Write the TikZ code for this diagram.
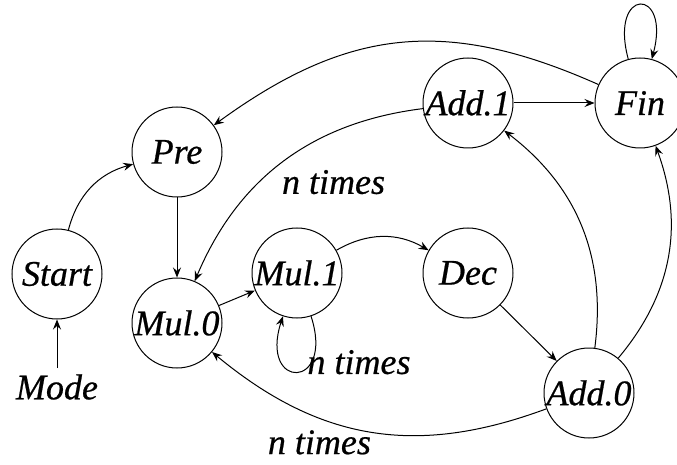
\documentclass[tikz,border=0pt]{standalone}
\usepackage{fontspec}
\setmainfont{Liberation Serif}
\newfontfamily\statefont{Liberation Serif Italic}[FakeBold=0.6]
\usetikzlibrary{arrows.meta}
\begin{document}
\begin{tikzpicture}[x=1pt,y=1pt,
  txt/.style={font=\fontsize{36}{40}\statefont},
  state/.style={txt,circle,draw,line width=1pt,minimum size=90pt,inner sep=0pt},
  lbl/.style={txt,inner sep=0pt},
  conn/.style={line width=1pt,-{Stealth[length=10pt,width=8pt,inset=3.5pt]}}]
\useasboundingbox (0,0) rectangle (677,464);

% states
\node[state] (start) at (57,190)  {Start};
\node[state] (pre)   at (177,312) {Pre};
\node[state] (mul0)  at (177,141) {Mul.0};
\node[state] (mul1)  at (297,191) {Mul.1};
\node[state] (dec)   at (468,191) {Dec};
\node[state] (add0)  at (589,71)  {Add.0};
\node[state] (add1)  at (468,361) {Add.1};
\node[state] (fin)   at (640,361) {Fin};
\node[txt,inner sep=6pt] (mode) at (57,77) {Mode};

% transitions
\draw[conn] (mode) -- (start);
\draw[conn] (start) to[bend left=30] (pre);
\draw[conn] (pre) -- (mul0);
\draw[conn] (add1) to[bend right=30] node[lbl,pos=0.5,anchor=north west,xshift=-2pt,yshift=-8pt] {n times} (mul0);
\draw[conn] (mul0) -- (mul1);
\draw[conn] (mul1) to[bend left=30] (dec);
\draw[conn] (mul1.-72) .. controls +(-72:78) and +(-108:78) ..
  node[lbl,pos=0.5,anchor=base west,xshift=10pt,yshift=-2pt] {n times} (mul1.-108);
\draw[conn] (dec) -- (add0);
\draw[conn] (add0) to[bend left=30,looseness=1.05] node[lbl,pos=0.66,anchor=north,yshift=-12pt] {n times} (mul0);
\draw[conn] (add0) to[bend right=30] (add1);
\draw[conn] (add0) to[bend right=30] (fin);
\draw[conn] (add1) -- (fin);
\draw[conn] (fin) to[bend right=30,looseness=1.1] (pre);
\draw[conn] (fin.105) .. controls +(105:75) and +(75:75) .. (fin.75);
\end{tikzpicture}
\end{document}
